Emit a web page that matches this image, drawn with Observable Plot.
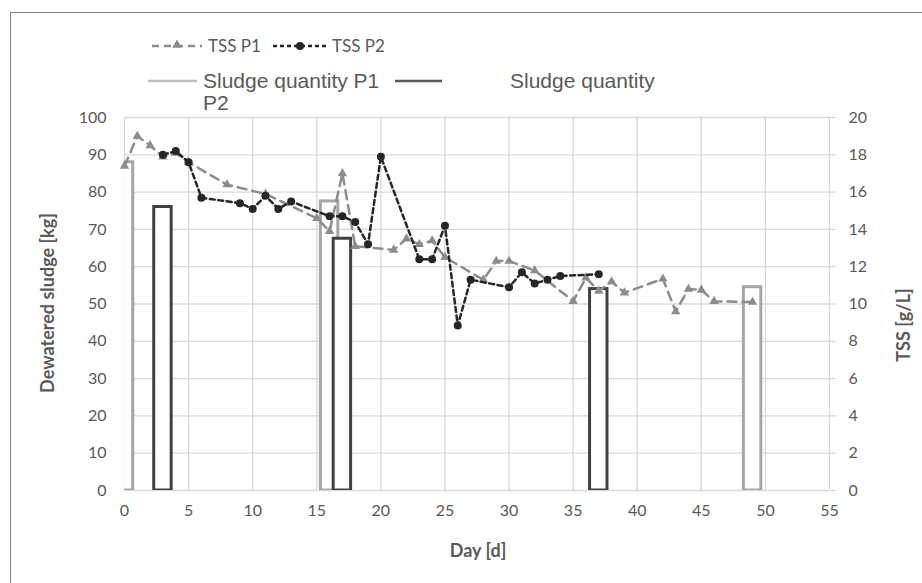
<!DOCTYPE html>
<html><head><meta charset="utf-8">
<script src="https://cdn.jsdelivr.net/npm/d3@7"></script>
<script src="https://cdn.jsdelivr.net/npm/@observablehq/plot@0.6"></script>
<style>
body{margin:0;background:#fff;}
#wrap{position:relative;width:922px;height:583px;overflow:hidden;font-family:Lato,sans-serif;color:#595959;}
#frame{position:absolute;left:10px;top:12px;width:1000px;height:700px;border-left:1px solid #808080;border-top:1px solid #808080;}
#chart{position:absolute;left:0;top:100px;}
#legend{position:absolute;left:0;top:0;z-index:2;}
.title{position:absolute;font-weight:bold;font-size:18px;color:#595959;white-space:nowrap;}
</style></head><body>
<div id="wrap">
  <div id="frame"></div>
  <div id="chart"></div>
  <svg id="legend" width="922" height="118"></svg>
  <div class="title" id="ytitle" style="left:47px;top:303px;transform:translate(-50%,-50%) rotate(-90deg);">Dewatered sludge [kg]</div>
  <div class="title" id="y2title" style="left:903px;top:325px;transform:translate(-50%,-50%) rotate(-90deg);">TSS [g/L]</div>
  <div class="title" id="xtitle" style="left:478px;top:550px;transform:translate(-50%,-50%);">Day [d]</div>
</div>
<script>
// TSS P1 (g/L)
const p1Days = [0,1,2,3,4,5,8,11,15,16,17,18,21,22,23,24,25,28,29,30,32,35,36,37,38,39,42,43,44,45,46,49];
const p1Tss  = [17.4,19.0,18.5,17.9,18.1,17.6,16.4,15.9,14.6,13.9,17.0,13.1,12.9,13.5,13.2,13.4,12.5,11.3,12.3,12.3,11.8,10.15,11.4,10.7,11.2,10.6,11.35,9.6,10.8,10.75,10.15,10.1];
// TSS P2 (g/L)
const p2Days = [3,4,5,6,9,10,11,12,13,16,17,18,19,20,23,24,25,26,27,30,31,32,33,34,37];
const p2Tss  = [18.0,18.2,17.6,15.7,15.4,15.1,15.8,15.1,15.5,14.7,14.7,14.4,13.2,17.9,12.4,12.4,14.2,8.85,11.3,10.9,11.7,11.1,11.3,11.5,11.6];
// Sludge quantity (kg)
const sludgeP1Days = [0,16,49];
const sludgeP1Kg   = [88,77.5,54.5];
const sludgeP2Days = [3,17,37];
const sludgeP2Kg   = [76,67.5,54];
// ticks
const xTicks = [0,5,10,15,20,25,30,35,40,45,50,55];
const yTicks = [0,10,20,30,40,50,60,70,80,90,100];
const legendLabels = ["TSS P1","TSS P2","Sludge quantity P1","Sludge quantity","P2"];

const p1 = p1Days.map((d,i)=>({day:d, tss:p1Tss[i]}));
const p2 = p2Days.map((d,i)=>({day:d, tss:p2Tss[i]}));
const s1 = sludgeP1Days.map((d,i)=>({day:d, kg:sludgeP1Kg[i]}));
const s2 = sludgeP2Days.map((d,i)=>({day:d, kg:sludgeP2Kg[i]}));
const half = 0.68;
const tssToKg = v => v*5;

const c1 = "#8c8c8c", c2 = "#262626";

const chart = Plot.plot({
  width: 922, height: 483,
  marginTop: 17, marginBottom: 93, marginLeft: 124, marginRight: 93,
  style: {fontFamily: "Lato, sans-serif", fontSize: "16px", color: "#595959", background: "transparent"},
  x: {domain: [0,55], axis: null},
  y: {domain: [0,100], axis: null},
  marks: [
    Plot.gridY(yTicks, {stroke: "#d9d9d9", strokeOpacity: 1, strokeWidth: 1.3}),
    Plot.gridX(xTicks, {stroke: "#d9d9d9", strokeOpacity: 1, strokeWidth: 1.3}),
    Plot.axisX(xTicks, {tickSize: 0, tickPadding: 14, fontSize: 16, fill: "#595959", label: null}),
    Plot.axisY(yTicks, {anchor: "left", tickSize: 0, tickPadding: 18, fontSize: 16, fill: "#595959", label: null}),
    Plot.axisY(yTicks, {anchor: "right", tickSize: 6, tickPadding: 13, stroke: "#d0d0d0", fontSize: 16, fill: "#595959", tickFormat: d => d/5, label: null}),
    Plot.rectY(s1, {x1: d => d.day - half, x2: d => d.day + half, y: "kg", fill: "white", stroke: "#a6a6a6", strokeWidth: 3, clip: true}),
    Plot.rectY(s2, {x1: d => d.day - half, x2: d => d.day + half, y: "kg", fill: "white", stroke: "#404040", strokeWidth: 3, clip: true}),
    Plot.line(p1, {x: "day", y: d => tssToKg(d.tss), stroke: c1, strokeWidth: 2.5, strokeDasharray: "9,6"}),
    Plot.dot(p1, {x: "day", y: d => tssToKg(d.tss), symbol: "triangle", r: 3.5, fill: c1}),
    Plot.line(p2, {x: "day", y: d => tssToKg(d.tss), stroke: c2, strokeWidth: 2.5, strokeDasharray: "5,3.5"}),
    Plot.dot(p2, {x: "day", y: d => tssToKg(d.tss), r: 4, fill: c2})
  ]
});
document.getElementById("chart").appendChild(chart);

// legend
const lg = d3.select("#legend");
// row 1
lg.append("line").attr("x1",152).attr("x2",202).attr("y1",46).attr("y2",46).attr("stroke",c1).attr("stroke-width",2.5).attr("stroke-dasharray","7,5");
lg.append("path").attr("d", d3.symbol(d3.symbolTriangle, 40)()).attr("transform","translate(177,45)").attr("fill",c1);
lg.append("text").attr("x",208).attr("y",52).text(legendLabels[0]).attr("font-family","Lato, sans-serif").attr("font-size",17).attr("fill","#595959");
lg.append("line").attr("x1",273).attr("x2",327).attr("y1",46).attr("y2",46).attr("stroke",c2).attr("stroke-width",2.5).attr("stroke-dasharray","4,3");
lg.append("circle").attr("cx",300).attr("cy",46).attr("r",4).attr("fill",c2);
lg.append("text").attr("x",332).attr("y",52).text(legendLabels[1]).attr("font-family","Lato, sans-serif").attr("font-size",17).attr("fill","#595959");
// row 2
lg.append("line").attr("x1",148).attr("x2",197).attr("y1",81).attr("y2",81).attr("stroke","#bfbfbf").attr("stroke-width",2.5);
lg.append("text").attr("x",203).attr("y",88).text(legendLabels[2]).attr("font-family","Liberation Sans, Arial, sans-serif").attr("font-size",21).attr("fill","#595959");
lg.append("line").attr("x1",395).attr("x2",442).attr("y1",81).attr("y2",81).attr("stroke","#595959").attr("stroke-width",2.5);
lg.append("text").attr("x",510).attr("y",88).text(legendLabels[3]).attr("font-family","Liberation Sans, Arial, sans-serif").attr("font-size",21).attr("fill","#595959");
lg.append("text").attr("x",203).attr("y",110).text(legendLabels[4]).attr("font-family","Liberation Sans, Arial, sans-serif").attr("font-size",21).attr("fill","#595959");
</script>
</body></html>
